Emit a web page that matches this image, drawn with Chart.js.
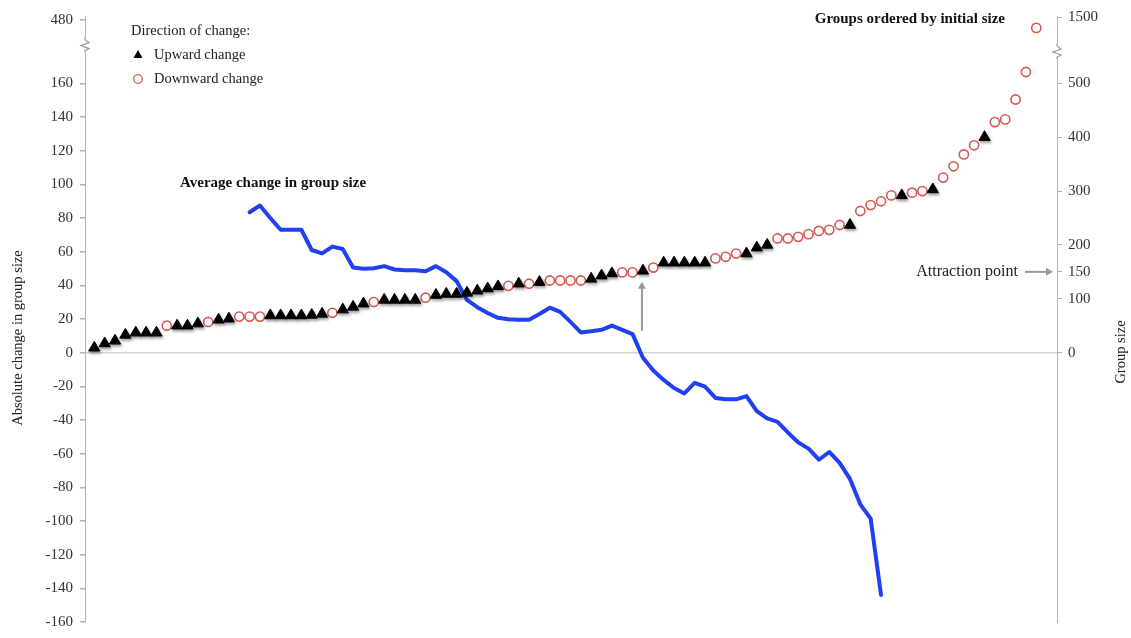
<!DOCTYPE html>
<html>
<head>
<meta charset="utf-8">
<script src="https://cdn.jsdelivr.net/npm/chart.js@4.4.1/dist/chart.umd.min.js"></script>
<style>
  html, body { margin: 0; padding: 0; background: #fff; }
  #chart { display: block; }
</style>
</head>
<body>
<canvas id="chart" width="1131" height="638"></canvas>
<script>
// groups, ordered by initial size (rank 1..92)
const groupSize = [9,17,22,33,37,37,37,50,50,50,54,57,61,63,67,67,67,69,69,69,
  69,70,72,74,80,85,91,94,98,98,98,98,102,107,109,109,111,115,119,123,
  124,128,128,131,134,134,134,134,137,143,147,149,149,152,158,167,167,167,167,167,
  175,178,184,184,195,200,212,212,215,220,226,228,237,237,263,274,281,292,292,297,
  300,303,325,346,368,385,400,428,433,470,521,1200];
// U = upward change, D = downward change
const direction = "UUUUUUUDUUUDUUDDDUUUUUUDUUUDUUUUDUUUUUUUDUDUDDDDUUUDDUDUUUUUDDDUUUDDDDDDDUDDDDUDDUDDDDUDDDDD".split("");

// average change in group size, starting at rank 16
const avgStartRank = 16;
const avgChange = [83.4,87.4,80,73,73,73,61,59,63,61.6,
  50.6,49.8,50.2,51.4,49.4,49,49,48.4,51.4,47.8,
  42.5,31.3,27,23.6,20.7,19.8,19.5,19.5,23,26.7,
  24.2,18.3,12,12.7,13.6,16.1,13.6,11,-3,-10.6,
  -16.2,-21,-24.2,-17.9,-20.2,-26.9,-27.7,-27.7,-25.8,-34.7,
  -39,-41.1,-47.4,-53.3,-57,-63.6,-59,-65.5,-75,-90.1,
  -98.6,-144];

const leftTicks = [-160,-140,-120,-100,-80,-60,-40,-20,0,20,40,60,80,100,120,140,160,480];
const rightTicks = [0,100,150,200,300,400,500,1500];
const attractionPoint = 150;
const attractionRank = 54;

// broken axes: values above the break are squeezed into the top strip
const LEFT_BREAK = 183, LEFT_TOP = 480, LEFT_TOP_POS = 197.6;
const RIGHT_BREAK = 560, RIGHT_TOP = 1500, RIGHT_TOP_POS = 623;
function leftPos(v) {
  return v <= LEFT_BREAK ? v : LEFT_BREAK + (v - LEFT_BREAK) * (LEFT_TOP_POS - LEFT_BREAK) / (LEFT_TOP - LEFT_BREAK);
}
function rightPos(v) {
  return v <= RIGHT_BREAK ? v : RIGHT_BREAK + (v - RIGHT_BREAK) * (RIGHT_TOP_POS - RIGHT_BREAK) / (RIGHT_TOP - RIGHT_BREAK);
}

const SERIF = "'Liberation Serif', 'Times New Roman', serif";
const RED = "#d25a52";
const BLUE = "#2140f2";
const AXIS = "#b3b3b3";

const upPts = [], downPts = [];
groupSize.forEach((v, i) => {
  const p = { x: i + 1, y: rightPos(v) };
  (direction[i] === "U" ? upPts : downPts).push(p);
});
const avgPts = avgChange.map((v, i) => ({ x: avgStartRank + i, y: v }));

function arrow(ctx, x1, y1, x2, y2) {
  const ang = Math.atan2(y2 - y1, x2 - x1), h = 7;
  ctx.beginPath();
  ctx.moveTo(x1, y1);
  ctx.lineTo(x2 - Math.cos(ang) * h * 0.8, y2 - Math.sin(ang) * h * 0.8);
  ctx.stroke();
  ctx.beginPath();
  ctx.moveTo(x2, y2);
  ctx.lineTo(x2 - h * Math.cos(ang) + 4 * Math.sin(ang), y2 - h * Math.sin(ang) - 4 * Math.cos(ang));
  ctx.lineTo(x2 - h * Math.cos(ang) - 4 * Math.sin(ang), y2 - h * Math.sin(ang) + 4 * Math.cos(ang));
  ctx.closePath();
  ctx.fill();
}

function axisBreak(ctx, x, yc) {
  ctx.fillStyle = "#fff";
  ctx.fillRect(x - 5, yc - 8, 10, 16);
  ctx.strokeStyle = "#999";
  ctx.lineWidth = 1.2;
  ctx.beginPath();
  ctx.moveTo(x, yc - 8);
  ctx.lineTo(x, yc - 5);
  ctx.lineTo(x + 4, yc - 2);
  ctx.lineTo(x - 4, yc + 1);
  ctx.lineTo(x + 4, yc + 4);
  ctx.lineTo(x, yc + 6);
  ctx.lineTo(x, yc + 8);
  ctx.stroke();
}

// soft drop shadow under the black triangles
const markerShadow = {
  id: "markerShadow",
  beforeDatasetDraw(chart, args) {
    if (args.index !== 0) return;
    const ctx = chart.ctx;
    ctx.save();
    ctx.shadowColor = "rgba(0,0,0,0.35)";
    ctx.shadowBlur = 3;
    ctx.shadowOffsetX = 1;
    ctx.shadowOffsetY = 2;
  },
  afterDatasetDraw(chart, args) {
    if (args.index === 0) chart.ctx.restore();
  }
};

// texts, arrows, legend and axis breaks drawn on top of the chart
const annotations = {
  id: "annotations",
  afterDraw(chart) {
    const { ctx, chartArea: a, scales: { x, y, y2 } } = chart;
    ctx.save();
    axisBreak(ctx, a.left, y.getPixelForValue(LEFT_BREAK));
    axisBreak(ctx, a.right, y2.getPixelForValue(RIGHT_BREAK));

    ctx.fillStyle = "#222";
    ctx.textBaseline = "middle";
    ctx.textAlign = "left";
    ctx.font = "14.5px " + SERIF;
    ctx.fillText("Direction of change:", 131, 31);
    ctx.fillText("Upward change", 154, 55);
    ctx.fillText("Downward change", 154, 79);
    // legend markers
    ctx.fillStyle = "#000";
    ctx.beginPath();
    ctx.moveTo(138, 50);
    ctx.lineTo(142.5, 58);
    ctx.lineTo(133.5, 58);
    ctx.closePath();
    ctx.fill();
    ctx.strokeStyle = RED;
    ctx.lineWidth = 1.3;
    ctx.beginPath();
    ctx.arc(138, 79, 4.3, 0, Math.PI * 2);
    ctx.stroke();

    ctx.fillStyle = "#111";
    ctx.font = "bold 15px " + SERIF;
    ctx.fillText("Average change in group size", 180, 183);
    ctx.textAlign = "right";
    ctx.fillText("Groups ordered by initial size", 1005, 19);

    // attraction point
    const ya = y2.getPixelForValue(rightPos(attractionPoint));
    ctx.font = "16px " + SERIF;
    ctx.fillStyle = "#222";
    ctx.fillText("Attraction point", 1018, ya);
    ctx.strokeStyle = "#9a9a9a";
    ctx.fillStyle = "#9a9a9a";
    ctx.lineWidth = 2;
    arrow(ctx, 1025, ya, a.right - 4, ya);
    const xa = x.getPixelForValue(attractionRank) - 1;
    const yt = y2.getPixelForValue(rightPos(groupSize[attractionRank - 1])) + 11;
    arrow(ctx, xa, yt + 49, xa, yt);

    // axis titles
    ctx.fillStyle = "#222";
    ctx.font = "14.5px " + SERIF;
    ctx.textAlign = "center";
    ctx.save();
    ctx.translate(18, 338);
    ctx.rotate(-Math.PI / 2);
    ctx.fillText("Absolute change in group size", 0, 0);
    ctx.restore();
    ctx.save();
    ctx.translate(1121, 352);
    ctx.rotate(-Math.PI / 2);
    ctx.fillText("Group size", 0, 0);
    ctx.restore();
    ctx.restore();
  }
};

const tickFont = { family: SERIF, size: 15 };

new Chart(document.getElementById("chart"), {
  type: "scatter",
  data: {
    datasets: [
      {
        label: "Upward change", data: upPts, yAxisID: "y2",
        pointStyle: "triangle", pointRadius: 6.5,
        pointBackgroundColor: "#000", pointBorderColor: "#000", pointBorderWidth: 1
      },
      {
        label: "Downward change", data: downPts, yAxisID: "y2",
        pointStyle: "circle", pointRadius: 4.6,
        pointBackgroundColor: "#fff", pointBorderColor: RED, pointBorderWidth: 1.6
      },
      {
        label: "Average change in group size", data: avgPts, yAxisID: "y",
        showLine: true, borderColor: BLUE, borderWidth: 4, pointRadius: 0,
        tension: 0, borderJoinStyle: "round", borderCapStyle: "round"
      }
    ]
  },
  options: {
    responsive: false,
    animation: false,
    events: [],
    layout: { padding: { top: 14, bottom: 13, left: 0, right: 0 } },
    plugins: { legend: { display: false }, tooltip: { enabled: false } },
    scales: {
      x: { type: "linear", min: 0.1, max: 94, display: false },
      y: {
        position: "left", min: -160, max: 200,
        afterFit: s => { s.width = 85; },
        afterBuildTicks: s => { s.ticks = leftTicks.map(v => ({ value: leftPos(v) })); },
        ticks: { autoSkip: false, callback: (v, i) => leftTicks[i], font: tickFont, color: "#333", padding: 7 },
        grid: {
          color: c => (c.tick && c.tick.value === 0 ? "#d4d4d4" : "rgba(0,0,0,0)"),
          lineWidth: 1.5, tickColor: AXIS, tickLength: 5
        },
        border: { color: AXIS, width: 1 }
      },
      y2: {
        position: "right", min: -500, max: 625,
        afterFit: s => { s.width = 74; },
        afterBuildTicks: s => { s.ticks = rightTicks.map(v => ({ value: rightPos(v) })); },
        ticks: { autoSkip: false, callback: (v, i) => rightTicks[i], font: tickFont, color: "#333", padding: 6 },
        grid: { drawOnChartArea: false, tickColor: AXIS, tickLength: 5 },
        border: { color: AXIS, width: 1 }
      }
    }
  },
  plugins: [markerShadow, annotations]
});
</script>
</body>
</html>
